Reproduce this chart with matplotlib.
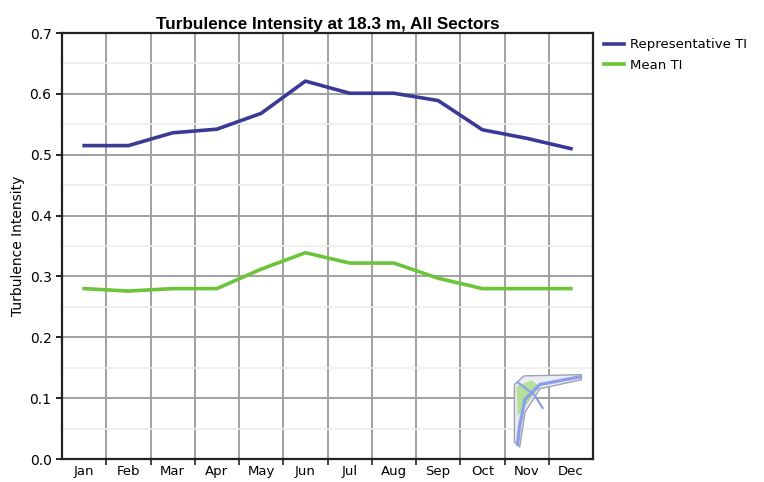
import matplotlib
matplotlib.use("Agg")
import matplotlib.pyplot as plt
from matplotlib.patches import Polygon
import numpy as np

months = ["Jan", "Feb", "Mar", "Apr", "May", "Jun",
          "Jul", "Aug", "Sep", "Oct", "Nov", "Dec"]
rep_ti = [0.515, 0.515, 0.536, 0.542, 0.568, 0.621,
          0.601, 0.601, 0.589, 0.541, 0.527, 0.510]
mean_ti = [0.280, 0.276, 0.280, 0.280, 0.312, 0.339,
           0.322, 0.322, 0.297, 0.280, 0.280, 0.280]
y_ticks = [0.0, 0.1, 0.2, 0.3, 0.4, 0.5, 0.6, 0.7]

fig = plt.figure(figsize=(7.64, 4.82), dpi=100)
ax = fig.add_axes([0.0812, 0.0477, 0.6950, 0.8838])

x = np.arange(len(months))
ax.plot(x, rep_ti, color="#3a3a96", lw=2.6, label="Representative TI", zorder=3)
ax.plot(x, mean_ti, color="#6cc43a", lw=2.6, label="Mean TI", zorder=3)

ax.set_xlim(-0.5, len(months) - 0.5)
ax.set_ylim(0, 0.7)
ax.set_xticks(x)
ax.set_xticklabels(months, fontsize=9.5)
ax.set_xticks(np.arange(0.5, len(months) - 1, 1.0), minor=True)
ax.set_yticks(y_ticks)
ax.set_yticklabels(["%.1f" % v for v in y_ticks], fontsize=10)
ax.set_yticks(np.arange(0.05, 0.7, 0.1), minor=True)

ax.tick_params(axis="x", which="major", length=0, pad=4)
ax.tick_params(axis="x", which="minor", length=4, width=1.2, direction="out",
               color="#222222")
ax.tick_params(axis="y", which="major", length=4, width=1.2, direction="out")
ax.tick_params(axis="y", which="minor", length=0)

ax.grid(axis="x", which="minor", color="#a0a0a0", lw=1.4)
ax.grid(axis="y", which="major", color="#a0a0a0", lw=1.4)
ax.grid(axis="y", which="minor", color="#ececec", lw=1.2)
ax.set_axisbelow(True)

for s in ax.spines.values():
    s.set_linewidth(1.6)
    s.set_color("#222222")

ax.set_title("Turbulence Intensity at 18.3 m, All Sectors",
             fontsize=12.3, fontweight="bold", family=["Liberation Sans", "DejaVu Sans"],
             pad=3)
ax.set_ylabel("Turbulence Intensity", fontsize=10)
ax.yaxis.set_label_coords(-0.07, 0.5)

# faint logo watermark in the lower right corner
logo_outer = [(0.852, 0.175), (0.87, 0.195), (0.978, 0.198), (0.978, 0.186),
              (0.90, 0.165), (0.872, 0.11), (0.862, 0.028), (0.852, 0.04)]
ax.add_patch(Polygon(logo_outer, closed=True, transform=ax.transAxes,
                     facecolor="#ececf6", edgecolor="#a0a0b0", lw=1.0, zorder=2))
green_bits = [(0.856, 0.17), (0.885, 0.185), (0.90, 0.17), (0.87, 0.12), (0.858, 0.10)]
ax.add_patch(Polygon(green_bits, closed=True, transform=ax.transAxes,
                     facecolor="#b4e09a", edgecolor="none", zorder=2))
ax.plot([0.976, 0.90, 0.872, 0.862, 0.858], [0.193, 0.175, 0.14, 0.08, 0.035],
        transform=ax.transAxes, color="#8aa0e8", lw=2.4, zorder=2)
ax.plot([0.858, 0.89, 0.905], [0.18, 0.15, 0.12], transform=ax.transAxes,
        color="#8aa0e8", lw=1.6, zorder=2)

fig.legend(loc="upper left", bbox_to_anchor=(0.775, 0.945), frameon=False,
           fontsize=9.5, handlelength=1.5, handletextpad=0.5, labelspacing=0.55)

fig.savefig("out.png", dpi=100)
